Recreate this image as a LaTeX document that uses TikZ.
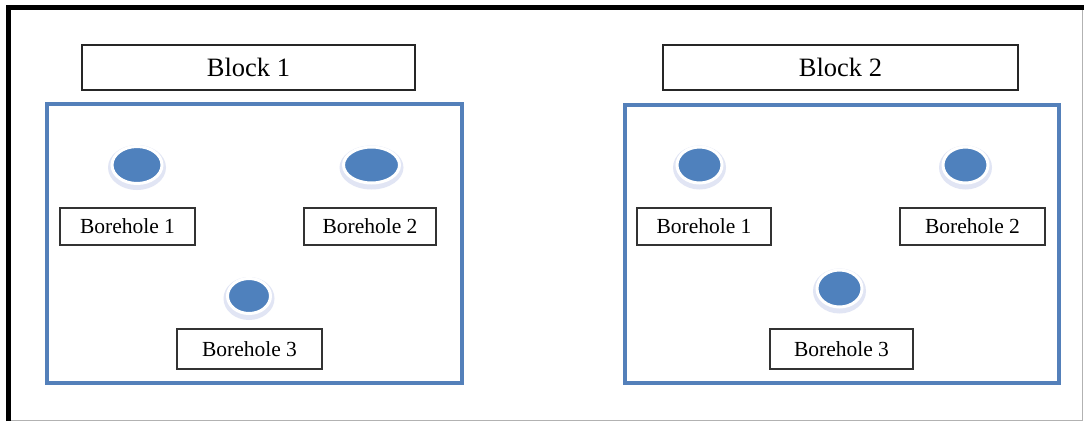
\documentclass[tikz,border=0pt]{standalone}
\usepackage{fontspec}
\setmainfont{Liberation Serif}
\usetikzlibrary{shapes.geometric}
\definecolor{bhblue}{RGB}{79,129,189}
\definecolor{rectblue}{RGB}{84,128,186}
\definecolor{shadowblue}{RGB}{205,212,238}
\tikzset{
  blocklabel/.style={draw=black!85, line width=1.2pt, fill=white, inner sep=0pt,
    minimum height=45pt, font=\fontsize{26.5}{31}\selectfont},
  bhlabel/.style={draw=black!80, line width=1.2pt, fill=white, inner sep=0pt,
    font=\fontsize{21.5}{25}\selectfont},
  blockrect/.style={draw=rectblue, line width=4pt},
  hole/.style={ellipse, fill=bhblue, draw=white, line width=3pt, inner sep=0pt},
}
\newcommand{\hole}[5]{%
  \fill[shadowblue, opacity=0.6] (#2,#3+2.5) ellipse ({#4/2+4} and {#5/2+4});
  \node[hole, minimum width=#4pt, minimum height=#5pt] (#1) at (#2,#3) {};
}
\begin{document}
\begin{tikzpicture}[x=1pt,y=-1pt]
\useasboundingbox (0,0) rectangle (1084,421);
\fill[white] (0,0) rectangle (1084,421);
% outer frame
\coordinate (fbl) at (8.5,421);
\coordinate (ftl) at (8.5,7.5);
\coordinate (ftr) at (1084,7.5);
\draw[black!30, line width=1pt] (11,420) -- (1082,420) -- (1082,8);
\draw[black, line width=5.5pt] (fbl) -- (ftl) -- (ftr);
% block label boxes
\node[blocklabel, minimum width=333pt] (b1) at (248.5,67.5) {Block 1};
\node[blocklabel, minimum width=355pt] (b2) at (840.5,67.5) {Block 2};
% blue block rectangles
\draw[blockrect] (47,104) rectangle (462,383);
\draw[blockrect] (625,105) rectangle (1059,383);
% boreholes block 1
\hole{h11}{137}{165}{50}{37}
\hole{h12}{371.5}{165}{56}{36}
\hole{h13}{249}{296}{43}{35}
% boreholes block 2
\hole{h21}{699.5}{165}{45}{36}
\hole{h22}{965.5}{165}{45}{36}
\hole{h23}{839.5}{288.5}{45}{37}
% borehole labels
\node[bhlabel, minimum width=135pt, minimum height=37pt] (l11) at (127.5,226.5) {Borehole 1};
\node[bhlabel, minimum width=132pt, minimum height=37pt] (l12) at (370,226.5) {Borehole 2};
\node[bhlabel, minimum width=145pt, minimum height=40pt] (l13) at (249.5,349) {Borehole 3};
\node[bhlabel, minimum width=134pt, minimum height=37pt] (l21) at (704,226.5) {Borehole 1};
\node[bhlabel, minimum width=145pt, minimum height=37pt] (l22) at (972.5,226.5) {Borehole 2};
\node[bhlabel, minimum width=143pt, minimum height=40pt] (l23) at (841.5,349) {Borehole 3};
\end{tikzpicture}
\end{document}
